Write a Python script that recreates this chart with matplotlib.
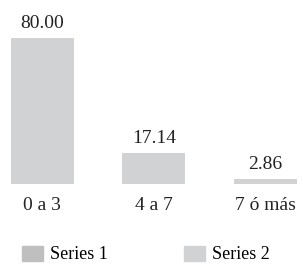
import matplotlib
matplotlib.use("Agg")
import matplotlib.pyplot as plt
from matplotlib.patches import Patch

categories = ["0 a 3", "4 a 7", "7 ó más"]
values = [80.00, 17.14, 2.86]
series_names = ["Series 1", "Series 2"]
series_colors = ["#bfbfbf", "#d1d2d4"]

plt.rcParams['font.family'] = ['Liberation Serif', 'DejaVu Serif']

fig = plt.figure(figsize=(3.03, 2.65), dpi=100)
ax = fig.add_axes([0, 81/265, 1, 182.5/265])

x = range(len(categories))
bars = ax.bar(x, values, width=0.565, color=series_colors[1])
for b, v in zip(bars, values):
    ax.annotate("%.2f" % v, (b.get_x() + b.get_width()/2, v),
                xytext=(0, 4), textcoords="offset points",
                ha="center", va="bottom", fontsize=14, color="#222222")

ax.set_xlim(-0.38, 2.34)
ax.set_ylim(0, 100)
ax.set_xticks(list(x))
ax.set_xticklabels(categories, fontsize=14, color="#222222")
ax.tick_params(axis="x", length=0, pad=9.5)
ax.set_yticks([])
for s in ax.spines.values():
    s.set_visible(False)

handles = [Patch(color=c, label=n) for c, n in zip(series_colors, series_names)]
fig.legend(handles=handles, loc="center", bbox_to_anchor=(0.482, 0.04), ncol=2,
           frameon=False, fontsize=13, handlelength=1.15, handleheight=0.9,
           columnspacing=4.25, handletextpad=0.4, borderaxespad=0, borderpad=0)

fig.savefig("out.png", dpi=100)
